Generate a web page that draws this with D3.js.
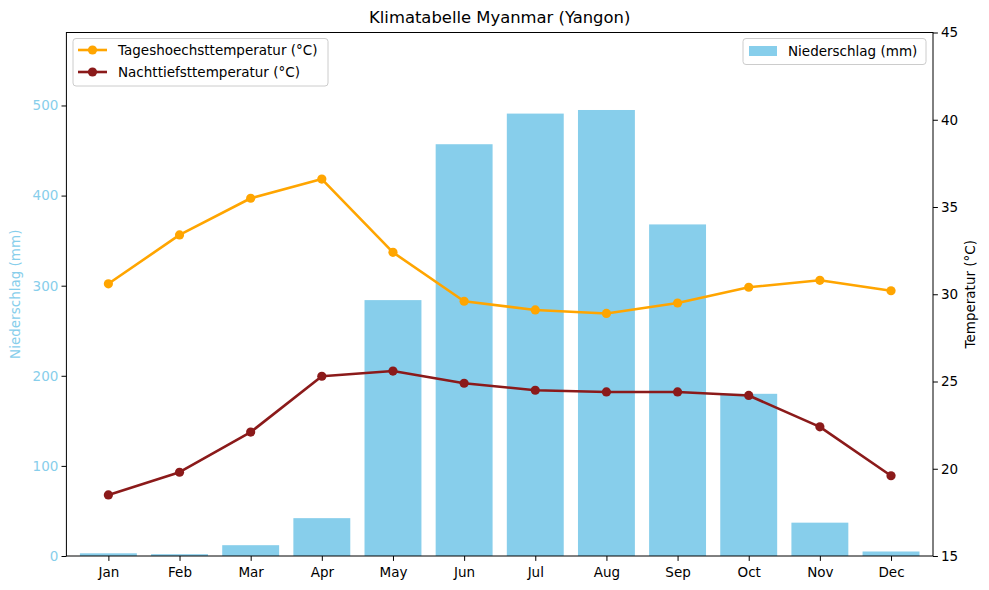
<!DOCTYPE html>
<html><head><meta charset="utf-8">
<script src="https://cdn.jsdelivr.net/npm/d3@7"></script>
<style>body{margin:0;background:#fff}svg{display:block;font-family:"DejaVu Sans",sans-serif}</style>
</head><body><svg id="c" width="989" height="590"></svg>
<script>
const months = ["Jan","Feb","Mar","Apr","May","Jun","Jul","Aug","Sep","Oct","Nov","Dec"];
const precipitation = [3,2,12,42,284,457,491,495,368,180,37,5];
const highTemp = [30.6,33.4,35.5,36.6,32.4,29.6,29.1,28.9,29.5,30.4,30.8,30.2];
const lowTemp = [18.5,19.8,22.1,25.3,25.6,24.9,24.5,24.4,24.4,24.2,22.4,19.6];
const precipTicks = [0,100,200,300,400,500];
const tempTicks = [15,20,25,30,35,40,45];

const L=66.4,R=933,T=32.5,B=556;
const svg=d3.select("#c");
const x=d3.scaleLinear().domain([-0.59,11.59]).range([L,R]);
const yP=d3.scaleLinear().domain([0,581]).range([B,T]);
const yT=d3.scaleLinear().domain([15,45]).range([B,T]);
const bw=x(0.8)-x(0);
const LW=2.6, MR=4.6;

// bars
svg.append("g").selectAll("rect").data(precipitation).join("rect")
  .attr("x",(d,i)=>x(i)-bw/2).attr("width",bw)
  .attr("y",d=>yP(d)).attr("height",d=>B-yP(d)).attr("fill","#87CEEB");

// lines
function series(data,color){
  const line=d3.line().x((d,i)=>x(i)).y(d=>yT(d));
  svg.append("path").datum(data).attr("d",line).attr("fill","none")
    .attr("stroke",color).attr("stroke-width",LW).attr("stroke-linejoin","round");
  svg.append("g").selectAll("circle").data(data).join("circle")
    .attr("cx",(d,i)=>x(i)).attr("cy",d=>yT(d)).attr("r",MR).attr("fill",color);
}
series(highTemp,"#FFA500");
series(lowTemp,"#8B1A1A");

// frame
svg.append("rect").attr("x",L).attr("y",T).attr("width",R-L).attr("height",B-T)
  .attr("fill","none").attr("stroke","#000").attr("stroke-width",1);

const fs=13.5;
// x axis
const xa=svg.append("g").attr("transform",`translate(0,${B})`)
  .call(d3.axisBottom(x).tickValues(d3.range(12)).tickFormat(i=>months[i]).tickSize(4.9).tickSizeOuter(0));
xa.select(".domain").remove();
xa.selectAll("text").attr("font-size",fs).attr("fill","#000").attr("dy","0.95em").attr("font-family","DejaVu Sans");
// left axis
const ya=svg.append("g").attr("transform",`translate(${L},0)`)
  .call(d3.axisLeft(yP).tickValues(precipTicks).tickSize(4.9));
ya.select(".domain").remove();
ya.selectAll("line").attr("stroke","#000");
ya.selectAll("text").attr("font-size",fs).attr("fill","#87CEEB").attr("font-family","DejaVu Sans").attr("x",-8);
// right axis
const ra=svg.append("g").attr("transform",`translate(${R},0)`)
  .call(d3.axisRight(yT).tickValues(tempTicks).tickSize(4.9));
ra.select(".domain").remove();
ra.selectAll("text").attr("font-size",fs).attr("fill","#000").attr("font-family","DejaVu Sans").attr("x",8);

// labels
svg.append("text").attr("x",(L+R)/2).attr("y",23).attr("text-anchor","middle")
  .attr("font-size",16.4).text("Klimatabelle Myanmar (Yangon)");
svg.append("text").attr("transform",`translate(20,${(T+B)/2}) rotate(-90)`).attr("text-anchor","middle")
  .attr("font-size",fs).attr("fill","#87CEEB").text("Niederschlag (mm)");
svg.append("text").attr("transform",`translate(975,${(T+B)/2}) rotate(-90)`).attr("text-anchor","middle")
  .attr("font-size",fs).attr("fill","#000").text("Temperatur (°C)");

// legends
const lg1=svg.append("g");
lg1.append("rect").attr("x",73).attr("y",38.5).attr("width",255).attr("height",47.5).attr("rx",3)
  .attr("fill","#fff").attr("fill-opacity",0.8).attr("stroke","#ccc");
[["Tageshoechsttemperatur (°C)","#FFA500"],["Nachttiefsttemperatur (°C)","#8B1A1A"]].forEach((d,i)=>{
  const yy=50+i*22;
  lg1.append("line").attr("x1",78).attr("x2",107).attr("y1",yy).attr("y2",yy).attr("stroke",d[1]).attr("stroke-width",LW);
  lg1.append("circle").attr("cx",92.5).attr("cy",yy).attr("r",MR).attr("fill",d[1]);
  lg1.append("text").attr("x",118).attr("y",yy).attr("dy","0.35em").attr("font-size",fs).text(d[0]);
});
const lg2=svg.append("g");
lg2.append("rect").attr("x",743).attr("y",38.5).attr("width",183).attr("height",26).attr("rx",3)
  .attr("fill","#fff").attr("fill-opacity",0.8).attr("stroke","#ccc");
lg2.append("rect").attr("x",749).attr("y",46).attr("width",28).attr("height",10).attr("fill","#87CEEB");
lg2.append("text").attr("x",788).attr("y",51.5).attr("dy","0.35em").attr("font-size",fs).text("Niederschlag (mm)");
</script></body></html>
